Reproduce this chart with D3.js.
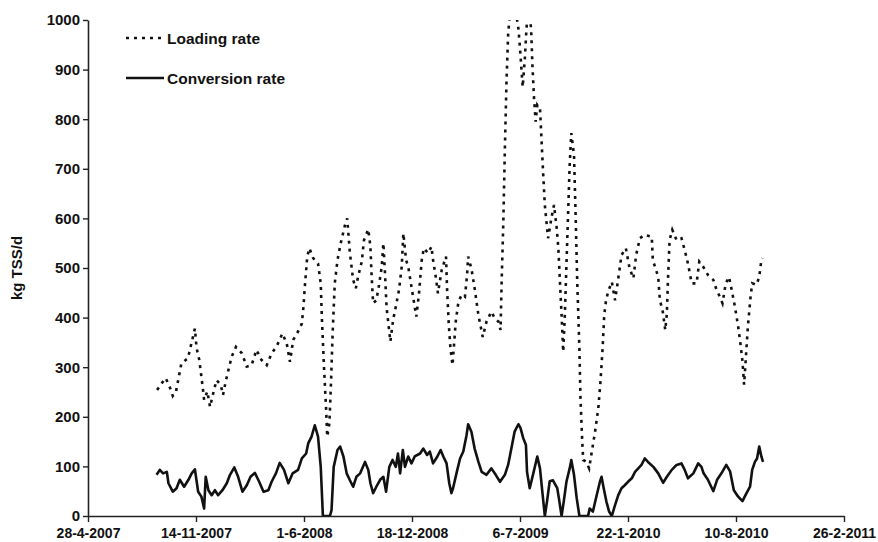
<!DOCTYPE html>
<html>
<head>
<meta charset="utf-8">
<script src="https://cdn.jsdelivr.net/npm/d3@7"></script>
<style>
  body { margin: 0; background: #fff; }
  text { font-family: "Liberation Sans", Arial, sans-serif; }
</style>
</head>
<body>
<svg id="chart" width="878" height="542"></svg>
<script>
// Dates are Excel serial day numbers (1 = 1-1-1900), values in kg TSS/d.
const xTickSerials = [39200, 39400, 39600, 39800, 40000, 40200, 40400, 40600];
const yTicks = [0, 100, 200, 300, 400, 500, 600, 700, 800, 900, 1000];
const seriesNames = ["Loading rate", "Conversion rate"];

const loadingSerials = [
  39328,39336,39344,39352,39357,39363,39367,39373,39385,39390,
  39398,39401,39406,39410,39413,39415,39421,39426,39432,39438,
  39446,39450,39455,39460,39466,39474,39485,39494,39503,39512,
  39521,39531,39540,39549,39560,39568,39574,39580,39589,39596,
  39599,39602,39606,39610,39617,39626,39631,39633,39637,39641,
  39643,39647,39650,39653,39657,39662,39668,39676,39680,39685,
  39691,39696,39700,39707,39711,39719,39723,39725,39728,39734,
  39739,39744,39747,39750,39753,39760,39765,39770,39776,39781,
  39784,39789,39793,39799,39805,39808,39813,39818,39822,39830,
  39836,39839,39844,39848,39855,39863,39865,39868,39871,39875,
  39878,39881,39886,39892,39898,39902,39904,39910,39916,39923,
  39931,39938,39947,39953,39960,39964,39966,39969,39972,39975,
  39978,39981,39989,39997,40000,40003,40005,40009,40012,40015,
  40019,40021,40023,40026,40029,40032,40037,40040,40043,40046,
  40049,40052,40058,40063,40068,40071,40074,40077,40080,40083,
  40086,40089,40092,40095,40100,40103,40106,40110,40112,40115,
  40117,40123,40128,40132,40139,40145,40149,40153,40156,40159,
  40163,40170,40176,40182,40188,40196,40203,40210,40215,40222,
  40231,40244,40246,40256,40259,40264,40269,40272,40274,40277,
  40282,40290,40299,40305,40311,40318,40327,40332,40339,40348,
  40358,40364,40370,40375,40381,40387,40392,40398,40404,40409,
  40412,40415,40418,40422,40427,40430,40438,40443,40447,40449
];
const loadingValues = [
  254,267,278,258,242,251,274,308,318,341,
  378,339,315,281,254,234,251,220,248,274,
  264,244,271,294,321,341,328,301,304,335,
  315,304,328,341,368,348,311,355,372,388,
  422,469,523,540,520,509,469,402,301,214,
  160,187,268,368,469,516,550,587,600,530,
  476,459,482,513,556,578,543,489,429,435,
  466,503,550,489,419,352,395,422,456,503,
  570,516,503,462,422,402,449,516,540,530,
  543,516,482,449,496,523,456,388,341,304,
  348,392,432,446,442,486,523,499,459,405,
  361,392,412,399,392,375,472,587,741,876,
  970,1010,1040,983,943,896,865,923,983,1020,
  1005,970,909,842,795,829,822,755,688,627,
  593,560,600,627,580,540,472,405,331,405,
  506,607,708,772,728,607,472,338,237,157,
  113,109,96,123,170,217,271,338,405,432,
  452,472,435,479,526,540,499,479,526,560,
  567,563,516,482,435,415,375,409,476,556,
  577,556,560,536,509,469,469,513,503,486,
  476,456,442,429,469,482,456,422,382,341,
  311,265,315,382,442,469,466,482,516,520
];

const conversionSerials = [
  39327,39333,39339,39346,39349,39357,39364,39370,39378,39386,
  39392,39398,39404,39410,39415,39418,39423,39429,39435,39441,
  39449,39457,39463,39471,39478,39486,39494,39501,39509,39517,
  39525,39534,39540,39548,39555,39563,39571,39579,39589,39596,
  39604,39608,39614,39620,39626,39631,39635,39648,39651,39655,
  39662,39667,39673,39679,39685,39691,39697,39704,39713,39719,
  39723,39728,39734,39741,39747,39752,39758,39764,39770,39774,
  39778,39783,39787,39793,39799,39805,39815,39821,39828,39833,
  39839,39847,39853,39858,39864,39869,39873,39876,39883,39889,
  39895,39901,39904,39910,39916,39923,39929,39938,39947,39955,
  39963,39972,39978,39984,39990,39997,40001,40006,40011,40013,
  40018,40024,40032,40037,40042,40046,40050,40055,40061,40069,
  40072,40077,40081,40086,40092,40095,40100,40105,40110,40126,
  40129,40135,40142,40148,40151,40155,40160,40165,40170,40176,
  40182,40188,40194,40200,40207,40213,40219,40225,40231,40237,
  40247,40256,40265,40272,40281,40290,40299,40305,40311,40321,
  40330,40336,40340,40348,40358,40365,40373,40382,40389,40396,
  40404,40412,40419,40426,40430,40435,40439,40443,40447,40450
];
const conversionValues = [
  83,93,86,89,66,49,56,73,59,73,
  86,94,49,39,15,79,52,42,52,42,
  52,66,83,98,79,49,62,79,87,69,
  49,52,69,86,107,93,66,86,93,116,
  126,147,160,183,160,99,0,0,12,99,
  133,140,120,86,72,59,79,86,109,93,
  66,46,59,73,79,49,99,113,99,126,
  86,133,99,120,106,120,126,136,123,130,
  106,120,133,120,106,66,46,56,89,116,
  130,163,185,170,136,109,89,83,96,83,
  69,83,103,136,170,185,177,157,143,89,
  56,83,120,96,42,0,29,70,72,56,
  36,0,29,69,96,113,83,36,0,0,
  15,9,42,69,79,56,29,9,0,22,
  42,56,62,69,76,89,96,103,116,109,
  99,86,67,79,93,103,106,93,76,86,
  106,99,86,73,50,73,86,103,90,52,
  39,30,45,59,93,109,116,140,120,109
];

const excelEpoch = Date.UTC(1899, 11, 30);
const toDate = s => new Date(excelEpoch + s * 86400000);

const svg = d3.select("#chart");
const margin = { left: 88, right: 34, top: 20, bottom: 26 };
const W = 878, H = 542;

const x = d3.scaleUtc()
  .domain([toDate(xTickSerials[0]), toDate(xTickSerials[xTickSerials.length - 1])])
  .range([margin.left, W - margin.right]);
const y = d3.scaleLinear()
  .domain([0, 1000])
  .range([H - margin.bottom, margin.top]);

svg.append("defs").append("clipPath").attr("id", "plot-clip")
  .append("rect")
  .attr("x", margin.left).attr("y", margin.top)
  .attr("width", W - margin.left - margin.right)
  .attr("height", H - margin.top - margin.bottom);

const line = d3.line().x(d => x(d[0])).y(d => y(d[1]));
const loading = loadingSerials.map((s, i) => [toDate(s), loadingValues[i]]);
const conversion = conversionSerials.map((s, i) => [toDate(s), conversionValues[i]]);

const plot = svg.append("g").attr("clip-path", "url(#plot-clip)");
plot.append("path").datum(loading)
  .attr("fill", "none").attr("stroke", "#111").attr("stroke-width", 2.6)
  .attr("stroke-dasharray", "3,5").attr("d", line);
plot.append("path").datum(conversion)
  .attr("fill", "none").attr("stroke", "#111").attr("stroke-width", 2.6)
  .attr("stroke-linejoin", "round").attr("d", line);

// Axes
const fmt = d3.utcFormat("%-d-%-m-%Y");
const xAxis = svg.append("g")
  .attr("transform", `translate(0,${y(0)})`)
  .call(d3.axisBottom(x).tickValues(xTickSerials.map(toDate)).tickFormat(fmt)
    .tickSize(6).tickSizeOuter(0).tickPadding(6));
const yAxis = svg.append("g")
  .attr("transform", `translate(${margin.left},0)`)
  .call(d3.axisLeft(y).tickValues(yTicks).tickFormat(d3.format("d"))
    .tickSize(5).tickSizeOuter(0).tickPadding(3));

[xAxis, yAxis].forEach(g => {
  g.select(".domain").attr("stroke", "#222").attr("stroke-width", 1.6);
  g.selectAll(".tick line").attr("stroke", "#222").attr("stroke-width", 1.4);
  g.selectAll(".tick text").attr("fill", "#111")
    .style("font-family", '"Liberation Sans", Arial, sans-serif')
    .style("font-weight", "bold");
});
xAxis.selectAll(".tick text").style("font-size", "14px");
yAxis.selectAll(".tick text").style("font-size", "15px");

// Y axis title
svg.append("text")
  .attr("transform", `translate(22,${(y(0) + y(1000)) / 2}) rotate(-90)`)
  .attr("text-anchor", "middle")
  .style("font-size", "15px").style("font-weight", "bold").attr("fill", "#111")
  .text("kg TSS/d");

// Legend
const legend = svg.append("g");
const legendRows = [
  { name: seriesNames[0], dash: "3,5", width: 2.6, y: 38 },
  { name: seriesNames[1], dash: null, width: 2.6, y: 78 }
];
legendRows.forEach(r => {
  legend.append("line")
    .attr("x1", 126).attr("x2", 164).attr("y1", r.y).attr("y2", r.y)
    .attr("stroke", "#111").attr("stroke-width", r.width)
    .attr("stroke-dasharray", r.dash);
  legend.append("text")
    .attr("x", 167).attr("y", r.y + 5.5)
    .style("font-size", "15.5px").style("font-weight", "bold").attr("fill", "#111")
    .text(r.name);
});
</script>
</body>
</html>
